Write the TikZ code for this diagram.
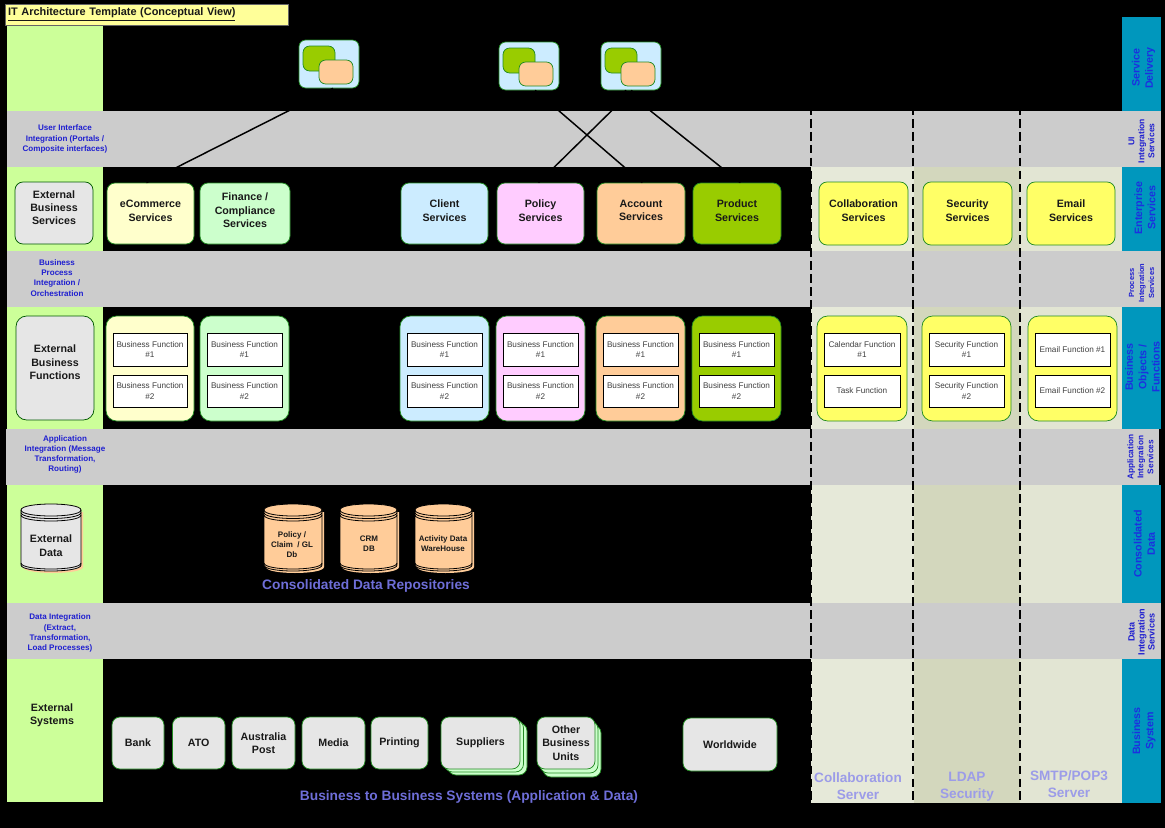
\documentclass[tikz,border=0pt]{standalone}
\usepackage{fontspec}
\setmainfont{Liberation Sans}
\definecolor{bandgreen}{HTML}{CCFF99}
\definecolor{bandgray}{HTML}{CCCCCC}
\definecolor{bandteal}{HTML}{0097BD}
\definecolor{colA}{HTML}{E6E9D9}
\definecolor{colB}{HTML}{D3D7BD}
\definecolor{colC}{HTML}{E2E5D3}
\definecolor{fTitle}{HTML}{FFFF99}
\definecolor{fYellowL}{HTML}{FFFFCC}
\definecolor{fGreenL}{HTML}{CCFFCC}
\definecolor{fBlue}{HTML}{CCECFF}
\definecolor{fPink}{HTML}{FFCCFF}
\definecolor{fPeach}{HTML}{FFCC99}
\definecolor{fOlive}{HTML}{99CC00}
\definecolor{fYellow}{HTML}{FFFF66}
\definecolor{fGray}{HTML}{E6E6E6}
\definecolor{edge}{HTML}{228B22}
\definecolor{smallblue}{HTML}{1F1FD0}
\definecolor{tealblue}{HTML}{1C2FE0}
\definecolor{capblue}{HTML}{6E6ED8}
\definecolor{srvblue}{HTML}{9C9CE8}
\newcommand\fs[2]{\fontsize{#1}{#2}\selectfont}
\newcommand\pad[1]{\\[\dimexpr#1pt-\baselineskip\relax]\mbox{}}
\tikzset{
  rbox/.style={draw=edge,line width=.55pt,rounded corners=6pt,inner sep=0pt,align=center,text=black!90,font=\fs{8}{10.1}\bfseries},
  wbox/.style={draw=black,line width=.7pt,fill=white,inner sep=0pt,align=center,text=black!75,font=\fs{6.15}{7.7}},
  smallb/.style={align=center,text=smallblue,inner sep=0pt,font=\fs{6.05}{7.6}\bfseries},
  sideb/.style={align=center,text=tealblue,inner sep=0pt,rotate=90,font=\fs{8}{10}\bfseries},
  sides/.style={align=center,text=smallblue,inner sep=0pt,rotate=90,font=\fs{6.3}{7.5}\bfseries},
  plainb/.style={align=center,text=black!90,inner sep=0pt,font=\fs{8}{10.1}\bfseries},
  dbtxt/.style={align=center,text=black!90,inner sep=0pt,font=\fs{6}{7.7}\bfseries},
  capt/.style={text=capblue,inner sep=0pt,align=center,font=\fs{10.3}{12.8}\bfseries},
  srvt/.style={text=srvblue,inner sep=0pt,align=center,font=\fs{10.2}{12.8}\bfseries},
  ctr/.style={line width=1.1pt,black},
  sep/.style={line width=1pt,black,dash pattern=on 6.5pt off 3.2pt},
}
\newcommand\bx[7]{\node[rbox,#6,minimum width={((#4)-(#2))*0.75pt},minimum height={((#5)-(#3))*0.75pt}] (#1) at ({((#2)+(#4))/2},{((#3)+(#5))/2}) {#7};}
\newcommand\wb[6]{\node[wbox,minimum width={((#4)-(#2))*0.75pt},minimum height={((#5)-(#3))*0.75pt}] (#1) at ({((#2)+(#4))/2},{((#3)+(#5))/2}) {#6};}
% functions column: container and two inner boxes
\newcommand\fcol[6]{%
  \bx{#1}{#2}{316}{#3}{421}{fill=#4,rounded corners=8pt}{}
  \wb{#1a}{#2+7}{333}{#3-7}{366}{#5}
  \wb{#1b}{#2+7}{375}{#3-7}{407}{#6}}
% cylinder: name, x1, x2, fill, shadow
\newcommand\cyl[5]{%
  \fill[#5] (#2+2,510+2) -- (#3+2,510+2) -- (#3+2,567) .. controls (#3+2,575) and (#2+2,575) .. (#2+2,567) -- cycle;
  \draw[black,line width=.6pt,fill=#4] (#2,510) -- (#2,565) .. controls (#2,573) and (#3,573) .. (#3,565) -- (#3,510) .. controls (#3,502) and (#2,502) .. (#2,510) -- cycle;
  \draw[black,line width=.6pt] (#2,510) .. controls (#2,518) and (#3,518) .. (#3,510);
  \draw[black,line width=.6pt] (#2,512.5) .. controls (#2,520.5) and (#3,520.5) .. (#3,512.5);
  \draw[black,line width=.6pt] (#2,515) .. controls (#2,523) and (#3,523) .. (#3,515);
  \draw[black,line width=.6pt] (#2,563) .. controls (#2,571) and (#3,571) .. (#3,563);
  \coordinate (#1) at ({(#2+#3)/2},537);}
\newcommand\appicon[3]{%
  \bx{#1}{#2}{#3}{#2+60}{#3+48}{fill=fBlue,rounded corners=5pt}{}
  \bx{#1g}{#2+4}{#3+6}{#2+36}{#3+31}{fill=fOlive,rounded corners=5pt}{}
  \bx{#1p}{#2+20}{#3+20}{#2+54}{#3+44}{fill=fPeach,rounded corners=5pt}{}}
\begin{document}
\begin{tikzpicture}[x=.75pt,y=-.75pt]
\useasboundingbox (0,0) rectangle (1165,828);
\fill[black] (0,0) rectangle (1165,828);
% left green column
\fill[bandgreen] (7,26) rectangle (103,111);
\fill[bandgreen] (7,167) rectangle (103,251);
\fill[bandgreen] (7,307) rectangle (103,429);
\fill[bandgreen] (7,485) rectangle (103,603);
\fill[bandgreen] (7,659) rectangle (103,802);
% server columns
\fill[colA] (811,167) rectangle (914,803);
\fill[colB] (914,167) rectangle (1020,803);
\fill[colC] (1020,167) rectangle (1122,803);
% right teal column
\fill[bandteal] (1122,17) rectangle (1161,111);
\fill[bandteal] (1122,167) rectangle (1161,251);
\fill[bandteal] (1122,307) rectangle (1161,429);
\fill[bandteal] (1122,485) rectangle (1161,603);
\fill[bandteal] (1122,659) rectangle (1161,803);
% gray bands
\fill[bandgray] (7,111) rectangle (1161,167);
\fill[bandgray] (7,251) rectangle (1161,307);
\fill[bandgray] (6,429) rectangle (1159,485);
\fill[bandgray] (7,603) rectangle (1161,659);
% dashed separators
\coordinate (s1a) at (811,106); \coordinate (s1b) at (811,803);
\coordinate (s2a) at (913,106); \coordinate (s2b) at (913,803);
\coordinate (s3a) at (1020,106); \coordinate (s3b) at (1020,803);
\draw[sep] (s1a) -- (s1b);
\draw[sep] (s2a) -- (s2b);
\draw[sep] (s3a) -- (s3b);
% title
\node[draw=black!60,line width=.4pt,fill=fTitle,minimum width=212.25pt,minimum height=15.75pt,inner xsep=2.25pt,inner ysep=0pt,text width=207.75pt,align=left,text=black!90,font=\fs{8.2}{9.5}\bfseries] (title) at (146.5,14.5) {\underline{IT Architecture Template (Conceptual View)}};
% app icons
\appicon{appA}{299}{40}
\appicon{appB}{499}{42}
\appicon{appC}{601}{42}
% band labels left
\node[smallb] (l1) at (65,139) {User Interface\\Integration (Portals /\\Composite interfaces)};
\node[smallb] (l2) at (57,278) {Business\\Process\\Integration /\\Orchestration};
\node[smallb] (l3) at (65,454.5) {Application\\Integration (Message\\Transformation,\\Routing)};
\node[smallb] (l4) at (60,633) {Data Integration\\(Extract,\\Transformation,\\Load Processes)};
% services row
\bx{ebs}{15}{182}{93}{244}{fill=fGray,draw=green!35!black}{External\\Business\\Services\pad{8}}
\bx{ecom}{107}{183}{194}{244}{fill=fYellowL}{eCommerce\\Services\pad{4.4}}
\bx{fin}{200}{183}{290}{244}{fill=fGreenL}{Finance /\\Compliance\\Services\pad{4.4}}
\bx{cli}{401}{183}{488}{244}{fill=fBlue}{Client\\Services\pad{4.4}}
\bx{pol}{497}{183}{584}{244}{fill=fPink}{Policy\\Services\pad{4.4}}
\bx{acc}{597}{183}{685}{244}{fill=fPeach}{Account\\Services\pad{4.4}}
\bx{pro}{693}{183}{781}{244}{fill=fOlive}{Product\\Services\pad{4.4}}
\bx{col}{819}{182}{908}{245}{fill=fYellow}{Collaboration\\Services\pad{4.4}}
\bx{sec}{923}{182}{1012}{245}{fill=fYellow}{Security\\Services\pad{4.4}}
\bx{ema}{1027}{182}{1115}{245}{fill=fYellow}{Email\\Services\pad{4.4}}
% connectors
\draw[ctr] ([xshift=3pt]appA.south) -- ([xshift=-3pt]ecom.north);
\draw[ctr] ([xshift=4.6pt]appB.south) -- ([xshift=1pt]acc.north);
\draw[ctr] ([xshift=1pt]appC.south) -- ([xshift=-1.5pt]pol.north);
\draw[ctr] ([xshift=-4.6pt]appC.south) -- ([xshift=2.5pt]pro.north);
% functions row
\bx{ebf}{16}{316}{94}{420}{fill=fGray,draw=green!35!black,rounded corners=8pt}{External\\Business\\Functions\pad{8.4}}
\fcol{fe}{106}{194}{fYellowL}{Business Function\\\#1}{Business Function\\\#2}
\fcol{ff}{200}{289}{fGreenL}{Business Function\\\#1}{Business Function\\\#2}
\fcol{fc}{400}{489}{fBlue}{Business Function\\\#1}{Business Function\\\#2}
\fcol{fp}{496}{585}{fPink}{Business Function\\\#1}{Business Function\\\#2}
\fcol{fa}{596}{685}{fPeach}{Business Function\\\#1}{Business Function\\\#2}
\fcol{fo}{692}{781}{fOlive}{Business Function\\\#1}{Business Function\\\#2}
\fcol{fk}{817}{907}{fYellow}{Calendar Function\\\#1}{Task Function}
\fcol{fs}{922}{1011}{fYellow}{Security Function\\\#1}{Security Function\\\#2}
\fcol{fm}{1028}{1117}{fYellow}{Email Function \#1}{Email Function \#2}
% data row
\cyl{cE}{21}{81}{fGray}{fPeach}
\node[plainb] (cEt) at (51,545.5) {External\\Data};
\cyl{cP}{264}{322}{fPeach}{fPeach}
\node[dbtxt] (cPt) at (292,544.5) {Policy /\\Claim~~/ GL\\Db};
\cyl{cC}{340}{397}{fPeach}{fPeach}
\node[dbtxt] (cCt) at (369,544) {CRM\\DB};
\cyl{cA}{415}{472}{fPeach}{fPeach}
\node[dbtxt] (cAt) at (443,544) {Activity Data\\WareHouse};
\node[capt] (cap1) at (366,585.5) {Consolidated Data Repositories};
% systems row
\node[plainb] (exsys) at (52,715) {External\\Systems};
\bx{bank}{112}{717}{164}{769}{fill=fGray}{Bank}
\bx{ato}{172.5}{717}{225}{769}{fill=fGray}{ATO}
\bx{aus}{232}{717}{295}{769}{fill=fGray}{Australia\\Post}
\bx{med}{302}{717}{365}{769}{fill=fGray}{Media}
\bx{prn}{371}{717}{428}{769}{fill=fGray}{Printing}
\bx{sup3}{448}{723}{527}{775}{fill=fGreenL}{}
\bx{sup2}{444.5}{720}{523.5}{772}{fill=fGreenL}{}
\bx{sup}{441}{717}{520}{769}{fill=fGray}{Suppliers}
\bx{oth3}{543}{725}{601}{777}{fill=fGreenL}{}
\bx{oth2}{540}{721}{598}{773}{fill=fGreenL}{}
\bx{oth}{537}{717}{595}{769}{fill=fGray}{Other\\Business\\Units}
\bx{wor}{683}{718}{777}{771}{fill=fGray}{Worldwide}
\node[capt] (cap2) at (469,797) {Business to Business Systems (Application \& Data)};
\node[srvt] (srv1) at (858,786.5) {Collaboration\\Server};
\node[srvt] (srv2) at (967,786.5) {LDAP\\Security};
\node[srvt] (srv3) at (1069,784.5) {SMTP/POP3\\Server};
% right labels
\node[sideb] (r1) at (1143.5,68) {Service\\Delivery};
\node[sides,font=\fs{6.4}{7.5}\bfseries] (r2) at (1141.5,141) {UI\\Integration\\Services};
\node[sideb] (r3) at (1145,208) {Enterprise\\Services};
\node[sides,font=\fs{5.6}{7.5}\bfseries] (r4) at (1141.5,283) {Process\\Integration\\Services};
\node[sideb] (r5) at (1142.5,367) {Business\\Objects /\\Functions};
\node[sides,font=\fs{6.2}{7.5}\bfseries] (r6) at (1140.5,457) {Application\\Integration\\Services};
\node[sideb] (r7) at (1144.5,544) {Consolidated\\Data};
\node[sides,font=\fs{6.8}{7.5}\bfseries] (r8) at (1141.5,632) {Data\\Integration\\Services};
\node[sideb] (r9) at (1144,731) {Business\\System};
\end{tikzpicture}
\end{document}
